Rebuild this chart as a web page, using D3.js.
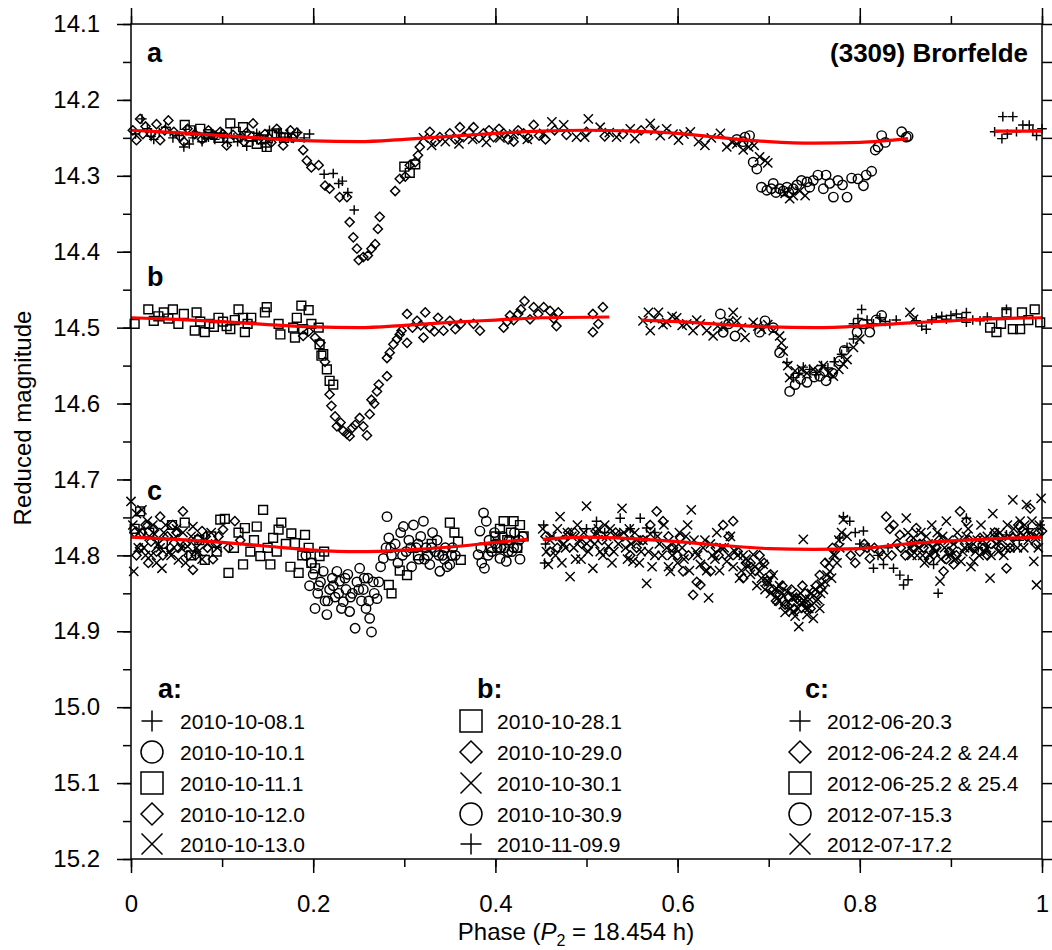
<!DOCTYPE html>
<html><head><meta charset="utf-8">
<script src="https://cdn.jsdelivr.net/npm/d3@7"></script>
<style>body{margin:0;background:#fff}svg{display:block}</style>
</head><body><svg id="chart" width="1052" height="950"></svg>
<script>
// ---------------- DATA ----------------
const xTicks = [0, 0.2, 0.4, 0.6, 0.8, 1];
const yTicks = [14.1, 14.2, 14.3, 14.4, 14.5, 14.6, 14.7, 14.8, 14.9, 15.0, 15.1, 15.2];

// Panel a
const a_20101008 = [[0.005,14.245],[0.012,14.225],[0.018,14.238],[0.025,14.252],[0.031,14.243],[0.038,14.236],[0.046,14.25],[0.053,14.247],[0.058,14.262],[0.064,14.258],[0.071,14.243],[0.078,14.255],[0.085,14.249],[0.092,14.252],[0.099,14.244],[0.106,14.256],[0.113,14.25],[0.12,14.248],[0.127,14.261],[0.134,14.254],[0.141,14.247],[0.148,14.262],[0.155,14.251],[0.162,14.243],[0.169,14.249],[0.176,14.25],[0.183,14.243],[0.19,14.25],[0.196,14.245],[0.212,14.298],[0.222,14.297],[0.228,14.31],[0.232,14.307],[0.238,14.322],[0.245,14.345],[0.948,14.242],[0.956,14.251],[0.957,14.222],[0.962,14.245],[0.968,14.222],[0.972,14.242],[0.979,14.233],[0.986,14.233],[0.99,14.24],[0.994,14.247],[1.0,14.238],[0.022,14.248],[0.043,14.242],[0.068,14.25],[0.088,14.243],[0.102,14.25],[0.117,14.255],[0.138,14.244],[0.152,14.24],[0.172,14.244]];
const a_20101010 = [[0.665,14.252],[0.672,14.255],[0.674,14.249],[0.679,14.247],[0.683,14.282],[0.687,14.291],[0.692,14.315],[0.698,14.319],[0.703,14.317],[0.708,14.322],[0.712,14.317],[0.716,14.32],[0.72,14.315],[0.727,14.317],[0.731,14.312],[0.736,14.306],[0.742,14.308],[0.749,14.306],[0.754,14.299],[0.76,14.317],[0.763,14.299],[0.767,14.31],[0.771,14.328],[0.776,14.306],[0.781,14.312],[0.786,14.328],[0.791,14.303],[0.798,14.304],[0.804,14.313],[0.807,14.299],[0.813,14.294],[0.817,14.266],[0.82,14.262],[0.824,14.247],[0.828,14.256],[0.846,14.242],[0.851,14.249],[0.853,14.248],[0.705,14.31],[0.722,14.322],[0.745,14.315]];
const a_20101011 = [[0.059,14.233],[0.065,14.24],[0.076,14.238],[0.085,14.245],[0.096,14.25],[0.109,14.231],[0.115,14.242],[0.123,14.236],[0.13,14.248],[0.138,14.258],[0.143,14.252],[0.149,14.262],[0.155,14.246],[0.16,14.244],[0.168,14.25],[0.3,14.288],[0.306,14.296],[0.312,14.285]];
const a_20101012 = [[0.002,14.24],[0.006,14.253],[0.01,14.225],[0.016,14.235],[0.022,14.245],[0.028,14.232],[0.032,14.253],[0.041,14.227],[0.047,14.242],[0.054,14.249],[0.062,14.238],[0.07,14.245],[0.078,14.252],[0.085,14.24],[0.092,14.247],[0.098,14.242],[0.105,14.26],[0.112,14.246],[0.12,14.25],[0.127,14.243],[0.134,14.231],[0.14,14.252],[0.147,14.245],[0.154,14.256],[0.16,14.238],[0.167,14.26],[0.175,14.24],[0.182,14.243],[0.189,14.266],[0.193,14.28],[0.198,14.289],[0.206,14.286],[0.213,14.313],[0.218,14.317],[0.229,14.328],[0.237,14.328],[0.24,14.361],[0.244,14.381],[0.248,14.396],[0.25,14.411],[0.255,14.407],[0.26,14.405],[0.264,14.396],[0.268,14.39],[0.271,14.37],[0.273,14.354],[0.29,14.32],[0.295,14.304],[0.301,14.301],[0.306,14.286],[0.312,14.282],[0.315,14.273],[0.317,14.262],[0.328,14.242],[0.334,14.255],[0.339,14.249],[0.35,14.244],[0.356,14.252],[0.361,14.236],[0.365,14.249],[0.371,14.243],[0.376,14.236],[0.382,14.25],[0.387,14.244],[0.393,14.24],[0.398,14.249],[0.404,14.238],[0.409,14.244],[0.414,14.252],[0.42,14.255],[0.425,14.24],[0.431,14.244],[0.436,14.25],[0.442,14.233],[0.448,14.247],[0.455,14.252],[0.465,14.24],[0.478,14.246],[0.5,14.242],[0.52,14.248],[0.54,14.245],[0.56,14.24],[0.013,14.245],[0.037,14.24],[0.058,14.255],[0.082,14.248],[0.101,14.245],[0.124,14.255],[0.151,14.25],[0.178,14.25]];
const a_20101013 = [[0.321,14.25],[0.33,14.26],[0.345,14.255],[0.36,14.258],[0.375,14.252],[0.39,14.256],[0.405,14.25],[0.42,14.245],[0.435,14.252],[0.453,14.244],[0.462,14.229],[0.475,14.233],[0.489,14.249],[0.498,14.249],[0.502,14.225],[0.515,14.236],[0.525,14.243],[0.533,14.249],[0.548,14.238],[0.553,14.251],[0.57,14.231],[0.575,14.24],[0.581,14.247],[0.588,14.238],[0.595,14.245],[0.601,14.253],[0.607,14.245],[0.614,14.242],[0.623,14.255],[0.63,14.26],[0.637,14.25],[0.647,14.244],[0.654,14.262],[0.66,14.256],[0.665,14.258],[0.672,14.266],[0.678,14.262],[0.684,14.26],[0.69,14.275],[0.696,14.28],[0.699,14.283],[0.718,14.323],[0.723,14.33],[0.727,14.326],[0.734,14.32],[0.74,14.326]];

// Panel b
const b_20101028 = [[0.004,14.495],[0.019,14.476],[0.025,14.491],[0.03,14.485],[0.036,14.48],[0.041,14.488],[0.046,14.476],[0.052,14.495],[0.058,14.482],[0.07,14.504],[0.072,14.48],[0.076,14.492],[0.081,14.506],[0.086,14.495],[0.091,14.499],[0.096,14.487],[0.101,14.492],[0.105,14.498],[0.109,14.502],[0.114,14.49],[0.118,14.476],[0.123,14.487],[0.125,14.506],[0.128,14.495],[0.132,14.487],[0.147,14.48],[0.149,14.473],[0.162,14.495],[0.164,14.509],[0.178,14.5],[0.18,14.513],[0.182,14.487],[0.187,14.471],[0.189,14.502],[0.195,14.477],[0.198,14.495],[0.206,14.5],[0.207,14.522],[0.209,14.537],[0.211,14.535],[0.215,14.555],[0.218,14.57],[0.222,14.575],[0.943,14.5],[0.95,14.506],[0.955,14.495],[0.961,14.48],[0.968,14.502],[0.976,14.502],[0.978,14.48],[0.985,14.49],[0.992,14.476],[0.998,14.493]];
const b_20101029 = [[0.189,14.511],[0.195,14.505],[0.202,14.513],[0.208,14.52],[0.213,14.545],[0.218,14.588],[0.22,14.603],[0.224,14.617],[0.226,14.63],[0.23,14.625],[0.233,14.636],[0.237,14.64],[0.24,14.643],[0.243,14.632],[0.246,14.628],[0.251,14.619],[0.255,14.63],[0.259,14.642],[0.262,14.614],[0.264,14.595],[0.267,14.6],[0.27,14.584],[0.272,14.575],[0.281,14.564],[0.281,14.54],[0.284,14.533],[0.288,14.522],[0.292,14.515],[0.295,14.509],[0.297,14.504],[0.303,14.52],[0.303,14.482],[0.309,14.5],[0.314,14.491],[0.318,14.497],[0.321,14.513],[0.323,14.48],[0.328,14.5],[0.333,14.505],[0.337,14.487],[0.343,14.504],[0.35,14.491],[0.356,14.502],[0.362,14.495],[0.376,14.495],[0.383,14.504],[0.409,14.5],[0.413,14.492],[0.416,14.484],[0.42,14.49],[0.425,14.482],[0.428,14.476],[0.432,14.465],[0.438,14.489],[0.442,14.473],[0.447,14.482],[0.453,14.473],[0.46,14.478],[0.464,14.488],[0.467,14.498],[0.469,14.48],[0.507,14.482],[0.507,14.506],[0.513,14.495],[0.518,14.473]];
const b_20101030a = [[0.562,14.491],[0.568,14.48],[0.57,14.504],[0.575,14.488],[0.579,14.48],[0.584,14.496],[0.588,14.493],[0.594,14.485],[0.599,14.487],[0.605,14.497],[0.61,14.495],[0.617,14.504],[0.621,14.49],[0.625,14.495],[0.632,14.504],[0.639,14.511],[0.644,14.498],[0.65,14.5],[0.656,14.492],[0.661,14.48],[0.665,14.491],[0.67,14.5],[0.674,14.513],[0.683,14.493],[0.688,14.498],[0.692,14.502],[0.699,14.496],[0.705,14.504],[0.712,14.511],[0.714,14.52],[0.716,14.531],[0.721,14.55],[0.723,14.566],[0.729,14.557],[0.736,14.555],[0.742,14.56],[0.749,14.555],[0.755,14.558],[0.76,14.55],[0.766,14.56],[0.771,14.564],[0.777,14.555],[0.782,14.548],[0.786,14.542],[0.793,14.526],[0.8,14.515],[0.855,14.48],[0.859,14.489]];
const b_20101030b = [[0.647,14.482],[0.65,14.506],[0.656,14.495],[0.663,14.511],[0.69,14.506],[0.696,14.491],[0.705,14.5],[0.712,14.533],[0.723,14.584],[0.729,14.575],[0.735,14.568],[0.742,14.572],[0.75,14.565],[0.756,14.564],[0.763,14.57],[0.77,14.56],[0.778,14.544],[0.783,14.53],[0.797,14.506],[0.804,14.495],[0.811,14.506],[0.818,14.49],[0.824,14.484]];
const b_20101109 = [[0.72,14.546],[0.727,14.566],[0.733,14.56],[0.738,14.552],[0.745,14.555],[0.752,14.562],[0.758,14.55],[0.765,14.553],[0.772,14.545],[0.78,14.535],[0.786,14.526],[0.793,14.515],[0.793,14.495],[0.798,14.488],[0.802,14.476],[0.808,14.49],[0.815,14.495],[0.822,14.487],[0.828,14.492],[0.833,14.495],[0.84,14.49],[0.862,14.491],[0.868,14.498],[0.873,14.502],[0.879,14.49],[0.884,14.487],[0.89,14.485],[0.895,14.489],[0.9,14.484],[0.906,14.482],[0.912,14.487],[0.917,14.493],[0.917,14.48],[0.924,14.49],[0.932,14.491],[0.94,14.486],[0.961,14.476]];

// Panel c
const c_20120620 = [[0.453,14.76],[0.454,14.81],[0.455,14.785],[0.5,14.765],[0.511,14.755],[0.52,14.77],[0.537,14.751],[0.548,14.765],[0.559,14.751],[0.566,14.764],[0.575,14.77],[0.778,14.777],[0.782,14.749],[0.789,14.755],[0.795,14.77],[0.8,14.785],[0.804,14.768],[0.81,14.79],[0.815,14.817],[0.82,14.8],[0.826,14.812],[0.831,14.79],[0.837,14.817],[0.844,14.826],[0.848,14.839],[0.853,14.832],[0.881,14.812],[0.886,14.85],[0.917,14.751],[0.93,14.79],[0.961,14.773],[0.975,14.78],[0.985,14.765],[0.998,14.76]];
const c_20120624 = [[0.004,14.77],[0.01,14.79],[0.016,14.76],[0.022,14.782],[0.028,14.795],[0.032,14.749],[0.04,14.775],[0.046,14.76],[0.052,14.79],[0.057,14.742],[0.063,14.8],[0.068,14.819],[0.073,14.778],[0.078,14.768],[0.084,14.79],[0.09,14.805],[0.096,14.775],[0.101,14.766],[0.107,14.79],[0.114,14.755],[0.12,14.78],[0.455,14.775],[0.468,14.79],[0.48,14.77],[0.495,14.785],[0.51,14.768],[0.525,14.795],[0.54,14.775],[0.555,14.79],[0.57,14.76],[0.577,14.742],[0.584,14.755],[0.595,14.79],[0.603,14.777],[0.606,14.821],[0.612,14.8],[0.617,14.852],[0.621,14.835],[0.625,14.839],[0.63,14.815],[0.636,14.821],[0.642,14.79],[0.65,14.76],[0.656,14.775],[0.661,14.755],[0.666,14.795],[0.672,14.83],[0.68,14.81],[0.69,14.8],[0.698,14.834],[0.705,14.845],[0.712,14.852],[0.718,14.865],[0.725,14.845],[0.731,14.857],[0.737,14.84],[0.742,14.865],[0.749,14.848],[0.756,14.826],[0.762,14.81],[0.77,14.79],[0.79,14.8],[0.8,14.795],[0.805,14.785],[0.811,14.804],[0.816,14.79],[0.822,14.795],[0.829,14.749],[0.833,14.765],[0.837,14.76],[0.841,14.785],[0.844,14.773],[0.85,14.8],[0.856,14.78],[0.862,14.764],[0.87,14.79],[0.876,14.805],[0.881,14.799],[0.887,14.78],[0.892,14.821],[0.898,14.795],[0.903,14.812],[0.91,14.742],[0.917,14.755],[0.924,14.79],[0.932,14.777],[0.94,14.8],[0.948,14.77],[0.955,14.79],[0.961,14.817],[0.968,14.777],[0.974,14.76],[0.979,14.768],[0.987,14.738],[0.993,14.785],[1.0,14.768],[0.006,14.8],[0.012,14.77],[0.019,14.81],[0.025,14.765],[0.035,14.8],[0.043,14.79],[0.05,14.77],[0.06,14.785],[0.071,14.8],[0.082,14.775],[0.093,14.785],[0.46,14.795],[0.474,14.78],[0.487,14.77],[0.5,14.79],[0.517,14.78],[0.532,14.77],[0.548,14.8],[0.562,14.78],[0.59,14.775],[0.6,14.8],[0.645,14.8],[0.675,14.81],[0.685,14.82],[0.695,14.81],[0.702,14.825],[0.708,14.86],[0.715,14.84],[0.722,14.855],[0.728,14.87],[0.734,14.86],[0.74,14.85],[0.746,14.87],[0.752,14.84],[0.795,14.81],[0.808,14.79],[0.825,14.8],[0.835,14.8],[0.845,14.79],[0.858,14.79],[0.866,14.785],[0.884,14.79],[0.895,14.805],[0.906,14.8],[0.92,14.78],[0.936,14.79],[0.944,14.785],[0.952,14.775],[0.965,14.79],[0.983,14.775],[0.996,14.77]];
const c_20120625 = [[0.004,14.765],[0.01,14.742],[0.02,14.77],[0.035,14.785],[0.045,14.76],[0.059,14.757],[0.066,14.8],[0.075,14.78],[0.081,14.806],[0.088,14.775],[0.094,14.795],[0.098,14.753],[0.103,14.752],[0.107,14.823],[0.113,14.79],[0.118,14.77],[0.123,14.812],[0.125,14.764],[0.131,14.795],[0.135,14.78],[0.138,14.762],[0.142,14.801],[0.145,14.74],[0.15,14.79],[0.153,14.812],[0.156,14.777],[0.16,14.795],[0.162,14.766],[0.165,14.757],[0.17,14.785],[0.175,14.815],[0.176,14.771],[0.18,14.784],[0.184,14.823],[0.188,14.8],[0.191,14.773],[0.195,14.79],[0.198,14.81],[0.202,14.817],[0.207,14.801],[0.212,14.795],[0.283,14.839],[0.286,14.85],[0.295,14.82],[0.303,14.826],[0.315,14.8],[0.33,14.785],[0.35,14.757],[0.355,14.77],[0.359,14.782],[0.362,14.806],[0.395,14.79],[0.4,14.775],[0.405,14.765],[0.409,14.755],[0.413,14.78],[0.417,14.77],[0.42,14.755],[0.424,14.79],[0.427,14.76],[0.431,14.775]];
const c_20120715 = [[0.192,14.8],[0.196,14.84],[0.2,14.825],[0.202,14.87],[0.205,14.85],[0.208,14.835],[0.211,14.821],[0.213,14.86],[0.215,14.878],[0.218,14.845],[0.221,14.83],[0.224,14.855],[0.226,14.821],[0.229,14.834],[0.231,14.87],[0.233,14.861],[0.236,14.845],[0.238,14.825],[0.24,14.874],[0.243,14.85],[0.246,14.896],[0.248,14.835],[0.251,14.817],[0.253,14.86],[0.255,14.845],[0.258,14.87],[0.26,14.83],[0.262,14.883],[0.264,14.901],[0.267,14.85],[0.27,14.857],[0.272,14.835],[0.274,14.815],[0.277,14.804],[0.28,14.79],[0.281,14.749],[0.283,14.777],[0.286,14.8],[0.29,14.785],[0.293,14.81],[0.296,14.77],[0.299,14.762],[0.302,14.795],[0.305,14.78],[0.308,14.815],[0.31,14.76],[0.313,14.79],[0.316,14.805],[0.318,14.775],[0.321,14.755],[0.324,14.79],[0.326,14.8],[0.328,14.812],[0.331,14.77],[0.334,14.795],[0.336,14.78],[0.339,14.821],[0.342,14.8],[0.345,14.79],[0.347,14.815],[0.35,14.812],[0.353,14.79],[0.356,14.8],[0.381,14.799],[0.383,14.768],[0.385,14.81],[0.387,14.744],[0.388,14.817],[0.39,14.755],[0.393,14.78],[0.396,14.795],[0.399,14.77],[0.402,14.79],[0.405,14.804],[0.408,14.775],[0.41,14.79],[0.412,14.808],[0.415,14.78],[0.418,14.795],[0.421,14.77],[0.424,14.79],[0.427,14.805],[0.43,14.775],[0.198,14.81],[0.206,14.84],[0.216,14.86],[0.222,14.84],[0.228,14.85],[0.235,14.83],[0.241,14.855],[0.25,14.845],[0.256,14.83],[0.261,14.86],[0.266,14.835],[0.285,14.79],[0.298,14.8],[0.307,14.79],[0.315,14.785],[0.322,14.805],[0.33,14.79],[0.338,14.8],[0.344,14.805],[0.352,14.8],[0.384,14.79],[0.392,14.8],[0.4,14.785],[0.406,14.79],[0.414,14.795],[0.42,14.79],[0.426,14.78]];
const c_20120717 = [[0.0,14.729],[0.003,14.821],[0.006,14.745],[0.01,14.768],[0.014,14.79],[0.018,14.755],[0.022,14.8],[0.026,14.772],[0.03,14.785],[0.034,14.817],[0.038,14.76],[0.042,14.795],[0.047,14.778],[0.052,14.806],[0.057,14.77],[0.062,14.788],[0.068,14.762],[0.074,14.795],[0.08,14.78],[0.088,14.77],[0.095,14.79],[0.452,14.765],[0.456,14.795],[0.458,14.812],[0.462,14.775],[0.466,14.8],[0.471,14.749],[0.475,14.785],[0.479,14.77],[0.482,14.828],[0.486,14.79],[0.49,14.76],[0.494,14.805],[0.5,14.735],[0.504,14.78],[0.507,14.817],[0.511,14.77],[0.515,14.795],[0.52,14.76],[0.524,14.788],[0.528,14.81],[0.532,14.772],[0.539,14.738],[0.543,14.79],[0.547,14.765],[0.551,14.808],[0.555,14.78],[0.56,14.795],[0.566,14.837],[0.57,14.772],[0.575,14.8],[0.58,14.785],[0.585,14.76],[0.59,14.815],[0.592,14.821],[0.597,14.79],[0.602,14.77],[0.607,14.805],[0.611,14.76],[0.615,14.74],[0.62,14.795],[0.625,14.812],[0.63,14.78],[0.634,14.856],[0.638,14.8],[0.643,14.77],[0.648,14.79],[0.654,14.808],[0.658,14.775],[0.663,14.795],[0.668,14.83],[0.672,14.8],[0.677,14.815],[0.683,14.799],[0.687,14.84],[0.69,14.821],[0.694,14.812],[0.698,14.834],[0.702,14.85],[0.705,14.826],[0.709,14.857],[0.712,14.84],[0.716,14.865],[0.72,14.848],[0.724,14.87],[0.727,14.874],[0.73,14.855],[0.733,14.894],[0.736,14.862],[0.738,14.779],[0.74,14.87],[0.742,14.878],[0.745,14.858],[0.749,14.883],[0.752,14.86],[0.756,14.87],[0.758,14.838],[0.76,14.845],[0.764,14.826],[0.767,14.821],[0.771,14.799],[0.775,14.81],[0.778,14.79],[0.782,14.753],[0.786,14.775],[0.851,14.751],[0.855,14.79],[0.859,14.777],[0.863,14.8],[0.867,14.77],[0.871,14.81],[0.875,14.785],[0.879,14.76],[0.883,14.795],[0.888,14.834],[0.891,14.775],[0.895,14.755],[0.899,14.8],[0.903,14.785],[0.907,14.77],[0.911,14.808],[0.915,14.79],[0.919,14.765],[0.922,14.815],[0.925,14.808],[0.929,14.78],[0.933,14.76],[0.937,14.795],[0.94,14.775],[0.943,14.83],[0.946,14.745],[0.95,14.785],[0.954,14.77],[0.958,14.8],[0.962,14.76],[0.965,14.79],[0.968,14.727],[0.972,14.775],[0.976,14.755],[0.98,14.79],[0.983,14.733],[0.987,14.77],[0.991,14.808],[0.994,14.839],[0.997,14.76],[0.999,14.725],[0.002,14.76],[0.008,14.79],[0.012,14.74],[0.016,14.8],[0.02,14.775],[0.024,14.76],[0.028,14.81],[0.032,14.79],[0.036,14.77],[0.044,14.8],[0.05,14.765],[0.055,14.79],[0.06,14.81],[0.066,14.775],[0.072,14.79],[0.078,14.805],[0.084,14.785],[0.46,14.78],[0.468,14.765],[0.473,14.81],[0.477,14.79],[0.484,14.775],[0.488,14.805],[0.492,14.78],[0.497,14.77],[0.502,14.795],[0.509,14.785],[0.513,14.765],[0.518,14.8],[0.522,14.775],[0.526,14.765],[0.53,14.795],[0.535,14.785],[0.541,14.77],[0.545,14.805],[0.549,14.785],[0.553,14.77],[0.558,14.81],[0.562,14.78],[0.568,14.795],[0.572,14.815],[0.578,14.775],[0.583,14.8],[0.588,14.79],[0.594,14.8],[0.6,14.81],[0.605,14.79],[0.609,14.775],[0.613,14.82],[0.618,14.78],[0.622,14.8],[0.628,14.79],[0.632,14.82],[0.636,14.785],[0.641,14.805],[0.646,14.82],[0.651,14.79],[0.656,14.8],[0.661,14.815],[0.666,14.8],[0.67,14.82],[0.675,14.805],[0.68,14.825],[0.685,14.815],[0.692,14.83],[0.696,14.845],[0.7,14.835],[0.707,14.845],[0.711,14.86],[0.714,14.85],[0.718,14.875],[0.722,14.862],[0.726,14.855],[0.729,14.88],[0.732,14.87],[0.735,14.85],[0.739,14.86],[0.744,14.87],[0.747,14.85],[0.751,14.845],[0.754,14.858],[0.757,14.85],[0.762,14.835],[0.766,14.81],[0.769,14.83],[0.773,14.8],[0.777,14.78],[0.78,14.77],[0.853,14.77],[0.857,14.8],[0.861,14.785],[0.865,14.79],[0.869,14.8],[0.873,14.775],[0.877,14.8],[0.881,14.79],[0.885,14.77],[0.889,14.805],[0.893,14.79],[0.897,14.78],[0.901,14.795],[0.905,14.805],[0.909,14.78],[0.913,14.795],[0.917,14.775],[0.921,14.79],[0.927,14.795],[0.931,14.8],[0.935,14.78],[0.939,14.79],[0.944,14.8],[0.948,14.77],[0.952,14.795],[0.956,14.78],[0.96,14.79],[0.964,14.775],[0.969,14.765],[0.973,14.79],[0.977,14.77],[0.981,14.76],[0.985,14.78],[0.989,14.755],[0.993,14.775],[0.996,14.79]];

// Fitted curves (red)
const fitA1 = [[0,14.240],[0.05,14.243],[0.1,14.247],[0.15,14.251],[0.2,14.254],[0.25,14.255],[0.3,14.252],[0.35,14.248],[0.4,14.244],[0.45,14.241],[0.5,14.240],[0.55,14.241],[0.6,14.244],[0.65,14.250],[0.7,14.255],[0.75,14.257],[0.8,14.256],[0.853,14.251]];
const fitA2 = [[0.948,14.241],[1.0,14.241]];
const fitB1 = [[0,14.487],[0.05,14.489],[0.1,14.492],[0.15,14.496],[0.2,14.499],[0.25,14.500],[0.3,14.497],[0.35,14.493],[0.4,14.490],[0.45,14.487],[0.525,14.486]];
const fitB2 = [[0.56,14.490],[0.6,14.492],[0.65,14.496],[0.7,14.499],[0.75,14.500],[0.8,14.498],[0.85,14.494],[0.9,14.491],[0.95,14.488],[1.0,14.487]];
const fitC1 = [[0,14.776],[0.05,14.779],[0.1,14.783],[0.15,14.788],[0.2,14.793],[0.25,14.795],[0.3,14.793],[0.35,14.789],[0.4,14.783],[0.435,14.779]];
const fitC2 = [[0.452,14.779],[0.5,14.776],[0.55,14.778],[0.6,14.782],[0.65,14.787],[0.7,14.791],[0.75,14.792],[0.8,14.791],[0.85,14.785],[0.9,14.781],[0.95,14.778],[1.0,14.776]];

// Legend labels
const legendA = ["2010-10-08.1","2010-10-10.1","2010-10-11.1","2010-10-12.0","2010-10-13.0"];
const legendB = ["2010-10-28.1","2010-10-29.0","2010-10-30.1","2010-10-30.9","2010-11-09.9"];
const legendC = ["2012-06-20.3","2012-06-24.2 & 24.4","2012-06-25.2 & 25.4","2012-07-15.3","2012-07-17.2"];

// ---------------- DRAW ----------------
const FONT = "'Liberation Sans', Arial, Helvetica, sans-serif";
const svg = d3.select("#chart");
const x = d3.scaleLinear().domain([0,1]).range([131,1042]);
const y = d3.scaleLinear().domain([14.1,15.2]).range([24,859]);

function symPath(type, cx, cy, s){
  switch(type){
    case "plus": return `M${cx-s},${cy}H${cx+s}M${cx},${cy-s}V${cy+s}`;
    case "cross": return `M${cx-s},${cy-s}L${cx+s},${cy+s}M${cx-s},${cy+s}L${cx+s},${cy-s}`;
    case "square": return `M${cx-s},${cy-s}h${2*s}v${2*s}h${-2*s}Z`;
    case "diamond": return `M${cx},${cy-s}L${cx+s},${cy}L${cx},${cy+s}L${cx-s},${cy}Z`;
    case "circle": return `M${cx+s},${cy}A${s},${s} 0 1,1 ${cx-s},${cy}A${s},${s} 0 1,1 ${cx+s},${cy}Z`;
  }
}
const sizes = {plus:4.8, cross:4.6, square:4.4, diamond:4.6, circle:4.7};

const series = [
  {d:a_20101008, s:"plus"},{d:a_20101010, s:"circle"},{d:a_20101011, s:"square"},{d:a_20101012, s:"diamond"},{d:a_20101013, s:"cross"},
  {d:b_20101028, s:"square"},{d:b_20101029, s:"diamond"},{d:b_20101030a, s:"cross"},{d:b_20101030b, s:"circle"},{d:b_20101109, s:"plus"},
  {d:c_20120620, s:"plus"},{d:c_20120624, s:"diamond"},{d:c_20120625, s:"square"},{d:c_20120715, s:"circle"},{d:c_20120717, s:"cross"}
];

const gPts = svg.append("g");
series.forEach(ser=>{
  gPts.append("g").selectAll("path").data(ser.d).join("path")
    .attr("d", p => symPath(ser.s, x(p[0]), y(p[1]), sizes[ser.s]))
    .attr("fill","none").attr("stroke","#000").attr("stroke-width",1.45);
});

const line = d3.line().x(d=>x(d[0])).y(d=>y(d[1])).curve(d3.curveMonotoneX);
[fitA1,fitA2,fitB1,fitB2,fitC1,fitC2].forEach(f=>{
  svg.append("path").attr("d", line(f)).attr("fill","none").attr("stroke","#ff0000").attr("stroke-width",3.2);
});

// Axes
function styleAxis(g){
  g.attr("font-family", FONT).attr("font-size", 24);
  g.selectAll(".domain").remove();
  g.selectAll("line").attr("stroke","#000").attr("stroke-width",1.5);
  g.selectAll("text").attr("fill","#000");
}
const yMinor = d3.range(0,23).map(i=>+(14.1+i*0.05).toFixed(2));
const xMinor = d3.range(0,11).map(i=>+(i*0.1).toFixed(1));

svg.append("g").attr("transform","translate(131,0)")
  .call(d3.axisLeft(y).tickValues(yMinor).tickSize(8).tickFormat(""))
  .call(styleAxis);
svg.append("g").attr("transform","translate(131,0)")
  .call(d3.axisLeft(y).tickValues(yTicks).tickSize(14).tickPadding(17).tickFormat(d3.format(".1f")))
  .call(styleAxis);
svg.append("g").attr("transform","translate(1042,0)")
  .call(d3.axisRight(y).tickValues(yMinor).tickSize(10).tickFormat(""))
  .call(styleAxis);
svg.append("g").attr("transform","translate(0,24)")
  .call(d3.axisTop(x).tickValues(xMinor).tickSize(8).tickFormat(""))
  .call(styleAxis);
svg.append("g").attr("transform","translate(0,24)")
  .call(d3.axisTop(x).tickValues(xTicks).tickSize(16).tickFormat(""))
  .call(styleAxis);
svg.append("g").attr("transform","translate(0,859)")
  .call(d3.axisBottom(x).tickValues(xMinor).tickSize(8).tickFormat(""))
  .call(styleAxis);
svg.append("g").attr("transform","translate(0,859)")
  .call(d3.axisBottom(x).tickValues(xTicks).tickSize(14).tickPadding(22)
    .tickFormat(d => (d===0||d===1) ? String(d) : d.toFixed(1)))
  .call(styleAxis);

svg.append("rect").attr("x",131).attr("y",24).attr("width",1042-131).attr("height",859-24)
  .attr("fill","none").attr("stroke","#000").attr("stroke-width",1.5);

// Axis titles
svg.append("text").attr("transform","translate(31,418) rotate(-90)")
  .attr("text-anchor","middle").attr("font-family",FONT).attr("font-size",24)
  .text("Reduced magnitude");
const xl = svg.append("text").attr("x",576).attr("y",940).attr("text-anchor","middle")
  .attr("font-family",FONT).attr("font-size",24);
xl.append("tspan").text("Phase (");
xl.append("tspan").attr("font-style","italic").text("P");
xl.append("tspan").attr("font-size",16).attr("dy",6).text("2");
xl.append("tspan").attr("dy",-6).text(" = 18.454 h)");

// Panel letters and title
[["a",62],["b",286],["c",500]].forEach(([t,yy])=>{
  svg.append("text").attr("x",147).attr("y",yy).attr("font-family",FONT)
    .attr("font-weight","bold").attr("font-size",27).text(t);
});
svg.append("text").attr("x",1028).attr("y",62).attr("text-anchor","end").attr("font-family",FONT)
  .attr("font-weight","bold").attr("font-size",26).text("(3309) Brorfelde");

// Legend
const legShapes = {
  a:["plus","circle","square","diamond","cross"],
  b:["square","diamond","cross","circle","plus"],
  c:["plus","diamond","square","circle","cross"]
};
const legCols = [
  {key:"a", head:"a:", hx:158, sx:152, tx:180, labels:legendA},
  {key:"b", head:"b:", hx:477, sx:471, tx:497, labels:legendB},
  {key:"c", head:"c:", hx:805, sx:800, tx:827, labels:legendC}
];
const rowY = [721,752,783,814,844];
const legSize = {plus:10.5, cross:10.5, square:11, diamond:11, circle:11};
legCols.forEach(col=>{
  svg.append("text").attr("x",col.hx).attr("y",698).attr("font-family",FONT)
    .attr("font-weight","bold").attr("font-size",27).text(col.head);
  col.labels.forEach((lab,i)=>{
    const sh = legShapes[col.key][i];
    svg.append("path").attr("d",symPath(sh,col.sx,rowY[i],legSize[sh]))
      .attr("fill","none").attr("stroke","#000").attr("stroke-width",1.5);
    svg.append("text").attr("x",col.tx).attr("y",rowY[i]+7.5).attr("font-family",FONT)
      .attr("font-size",21).text(lab);
  });
});
</script>
</body></html>
